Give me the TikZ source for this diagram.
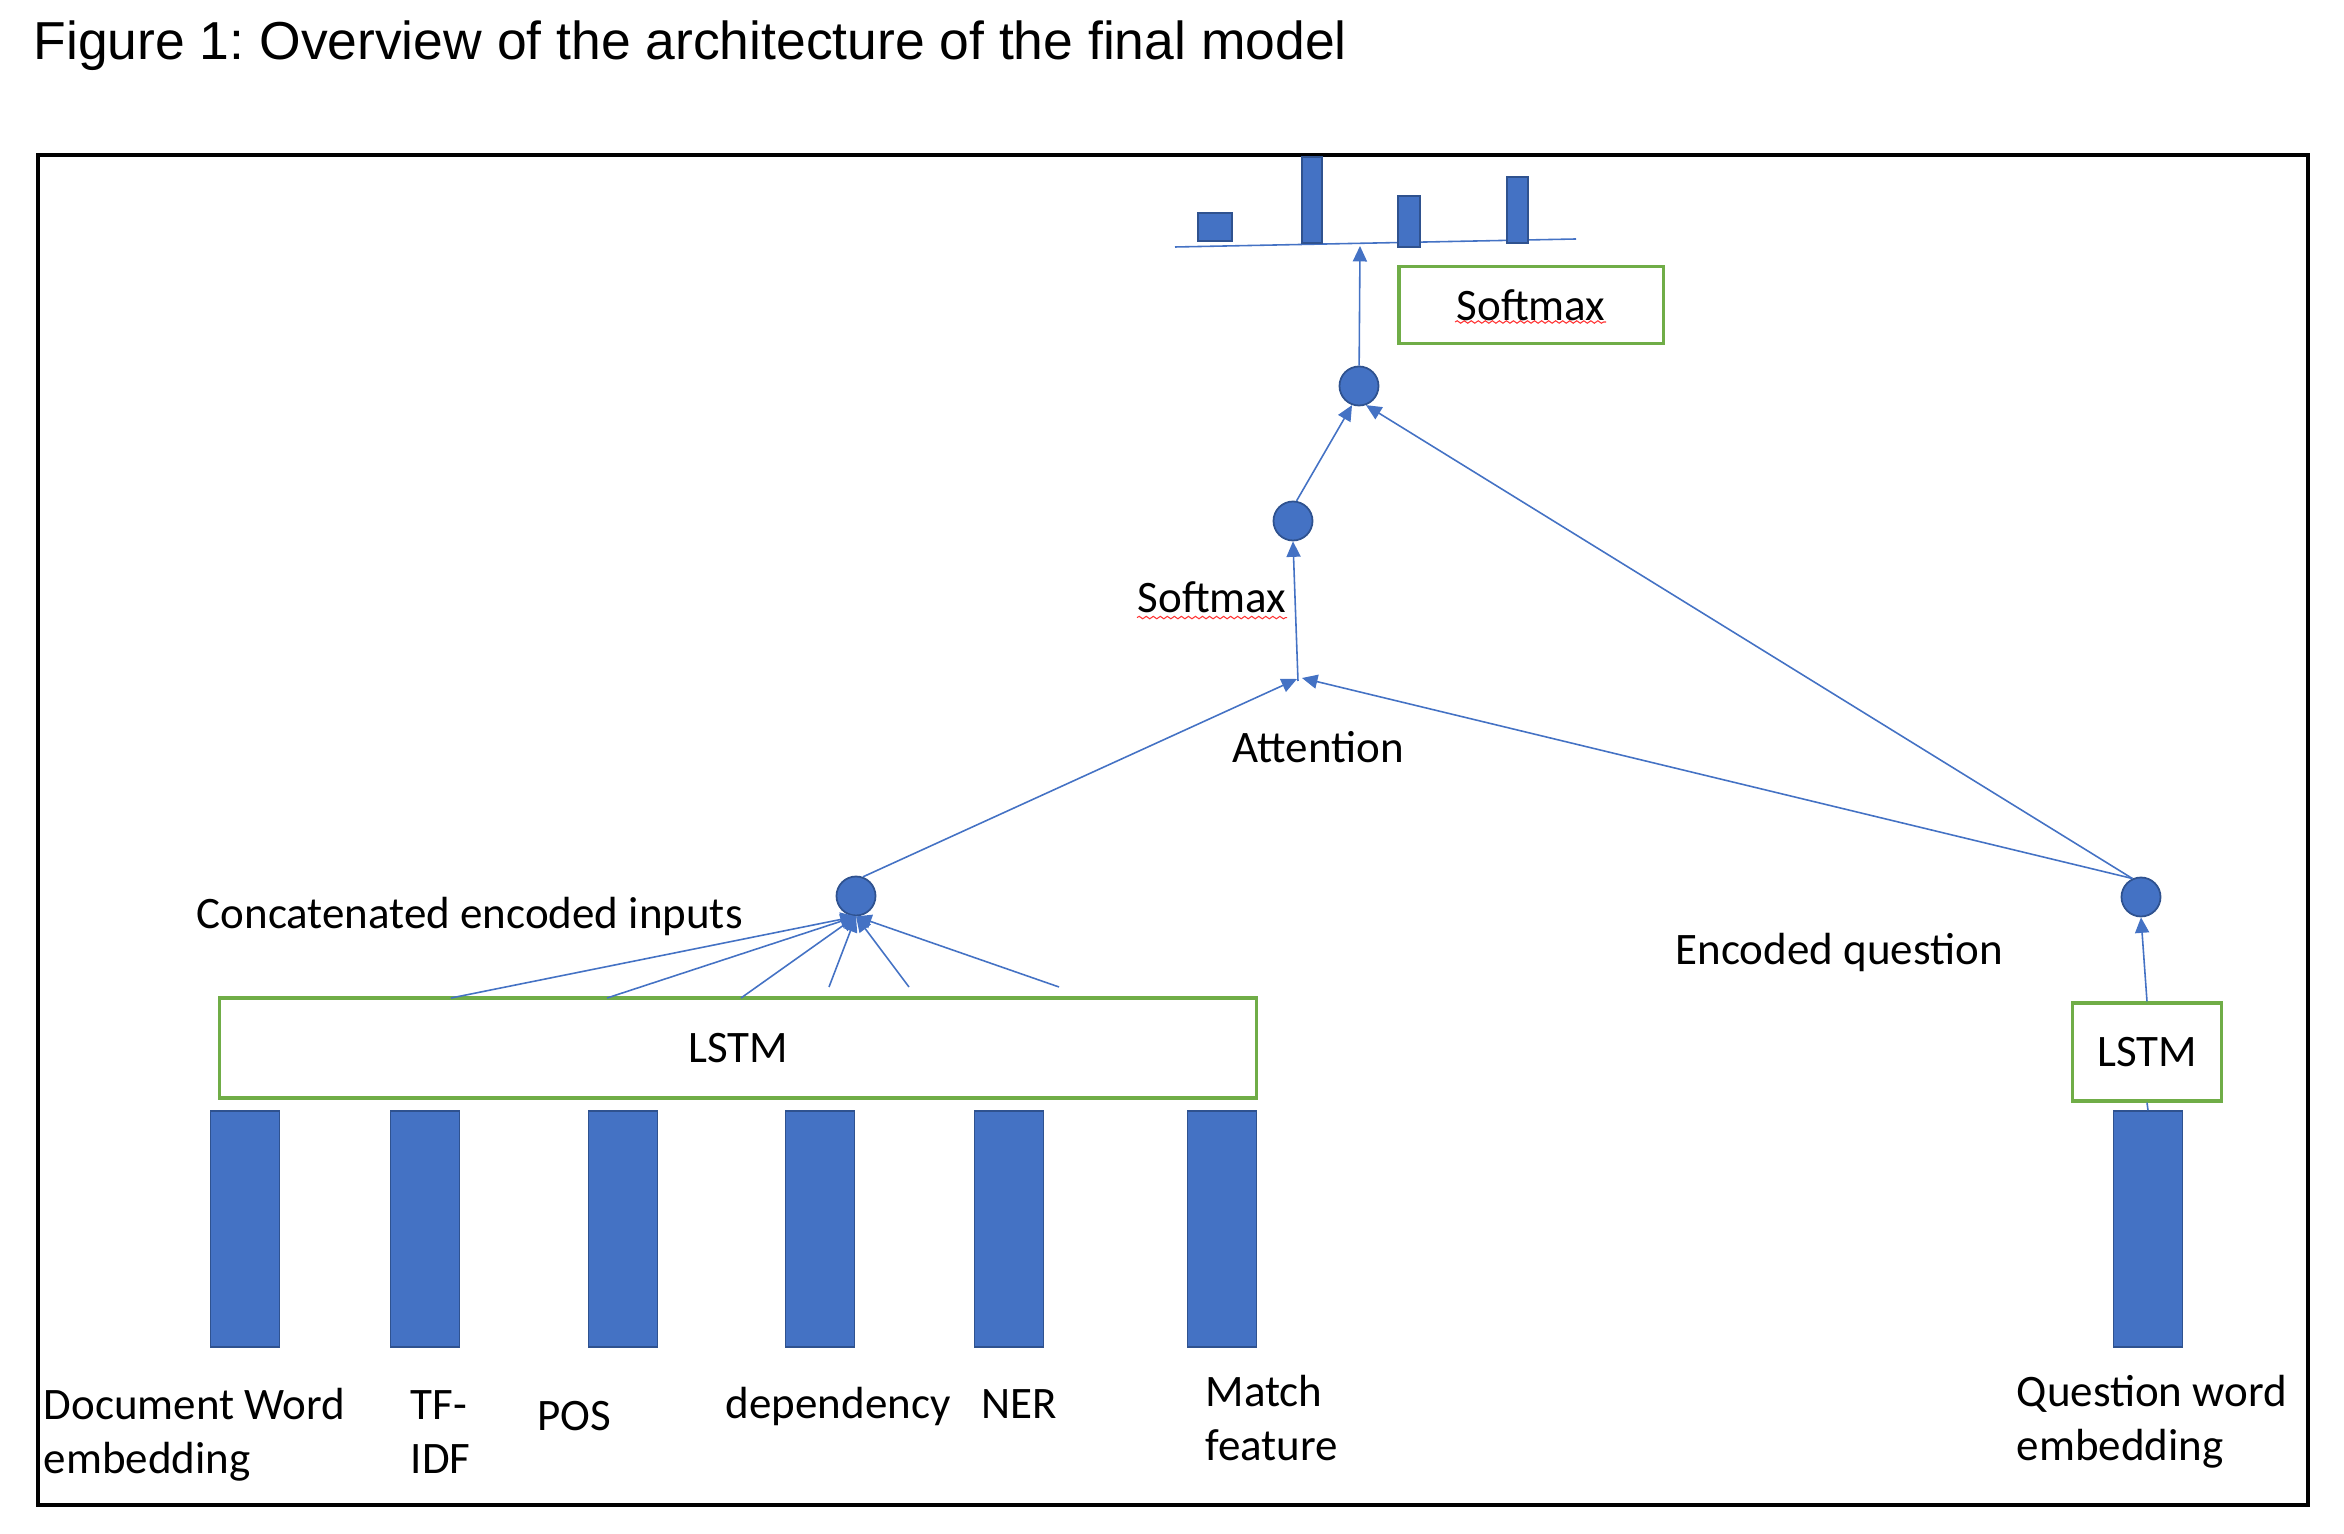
\documentclass[tikz,border=0pt]{standalone}
\usepackage{fontspec}
\setmainfont{Carlito}
\newfontfamily\titlefont{Liberation Sans}
\usetikzlibrary{arrows.meta, positioning, decorations.pathmorphing}

\definecolor{barblue}{HTML}{4472C4}
\definecolor{baredge}{HTML}{2F528F}
\definecolor{lineblue}{HTML}{4472C4}
\definecolor{boxgreen}{HTML}{70AD47}
\newcommand{\lblfont}{\fontsize{12.8}{15.3}\selectfont}

\begin{document}
\begin{tikzpicture}[
    x=0.01cm, y=-0.01cm,
    >={Triangle[length=4.4pt, width=4pt]},
    bar/.style={rectangle, draw=baredge, fill=barblue, line width=0.4pt, minimum width=0.69cm, minimum height=2.36cm, inner sep=0pt},
    lstm/.style={rectangle, draw=boxgreen, line width=0.9pt, fill=white, font=\lblfont, inner sep=0pt},
    dot/.style={circle, draw=baredge, fill=barblue, line width=0.5pt, minimum size=0.39cm, inner sep=0pt},
    lbl/.style={font=\lblfont, inner sep=0pt, anchor=base west, align=left},
    link/.style={draw=lineblue, line width=0.45pt},
    squiggle/.style={draw=red!80, line width=0.3pt, decorate, decoration={snake, amplitude=0.35pt, segment length=2pt}}
]
\useasboundingbox (0,0) rectangle (2344,1534);

% Title and frame
\node[font=\titlefont\fontsize{15.2}{18}\selectfont, anchor=base west, inner sep=0pt] (title) at (33,60) {\frenchspacing Figure 1: Overview of the architecture of the final model};
\draw[line width=1.3pt] (38,155) rectangle (2308,1505);

% Input bars
\node[bar] (wbar) at (245,1229) {};
\node[bar] (tbar) at (425,1229) {};
\node[bar] (pbar) at (623,1229) {};
\node[bar] (dbar) at (820,1229) {};
\node[bar] (nbar) at (1009,1229) {};
\node[bar] (mbar) at (1222,1229) {};
\node[bar] (qbar) at (2148,1229) {};

% Input labels (base = last line)
\node[lbl] (wlab) at (43,1473) {Document Word\\embedding};
\node[lbl] (tlab) at (410,1473) {TF-\\IDF};
\node[lbl] (plab) at (537,1430) {POS};
\node[lbl] (dlab) at (725,1419) {dependency};
\node[lbl] (nlab) at (981,1419) {NER};
\node[lbl] (mlab) at (1205,1460) {Match\\feature};
\node[lbl] (qlab) at (2016,1460) {Question word\\embedding};

% Encoders
\node[lstm, minimum width=10.36cm, minimum height=1.0cm] (dlstm) at (738,1048) {LSTM};
\node[lstm, minimum width=1.49cm, minimum height=0.98cm] (qlstm) at (2147,1052) {LSTM};
\node[dot] (cat) at (856,896) {};
\node[dot] (encq) at (2141,897) {};
\node[dot] (mid) at (1293,521) {};
\node[dot] (out) at (1359,386) {};
\node[lstm, minimum width=2.64cm, minimum height=0.77cm] (smbox) at (1531,305) {Softmax};

% Other labels
\node[lbl] (catlab) at (196,929) {Concatenated encoded inputs};
\node[lbl] (encqlab) at (1675,965) {Encoded question};
\node[lbl] (attlab) at (1232,763) {Attention};
\node[lbl] (smlab) at (1137,613) {Softmax};
\draw[squiggle] ([yshift=-1.3pt]smlab.base west) -- ([yshift=-1.3pt]smlab.base east);
\draw[squiggle] (1455,322) -- (1606,322);

% Output distribution
\draw[link] (1175,247) -- (1576,239);
\draw[draw=baredge, fill=barblue, line width=0.4pt] (1198,213) rectangle (1232,241);
\draw[draw=baredge, fill=barblue, line width=0.4pt] (1302,157) rectangle (1322,243);
\draw[draw=baredge, fill=barblue, line width=0.4pt] (1398,196) rectangle (1420,247);
\draw[draw=baredge, fill=barblue, line width=0.4pt] (1507,177) rectangle (1528,243);

% Points
\coordinate (tip) at (1360,246);
\coordinate (att) at (1298,681);
\coordinate (attl) at (1297,679);
\coordinate (attr) at (1302,678);
\coordinate (f1) at (451,998);
\coordinate (f2) at (607,998);
\coordinate (f3) at (741,998);
\coordinate (f4) at (829,987);
\coordinate (f5) at (909,987);
\coordinate (f6) at (1059,987);

% Links
\draw[link,->] (f1) -- (cat.south);
\draw[link,->] (f2) -- (cat.south);
\draw[link,->] (f3) -- (cat.south);
\draw[link,->] (f4) -- (cat.south);
\draw[link,->] (f5) -- (cat.south);
\draw[link,->] (f6) -- (cat.south);
\draw[link] (qbar.north) -- (qlstm.south);
\draw[link,->] (qlstm.north) -- (encq.south);
\draw[link,->] (cat.70) -- (attl);
\draw[link,->] (encq.115) -- (attr);
\draw[link,->] (att) -- (mid.south);
\draw[link,->] (mid.80) -- (out.-110);
\draw[link,->] (encq.115) -- (out.-70);
\draw[link,->] (out) -- (tip);

\end{tikzpicture}
\end{document}
